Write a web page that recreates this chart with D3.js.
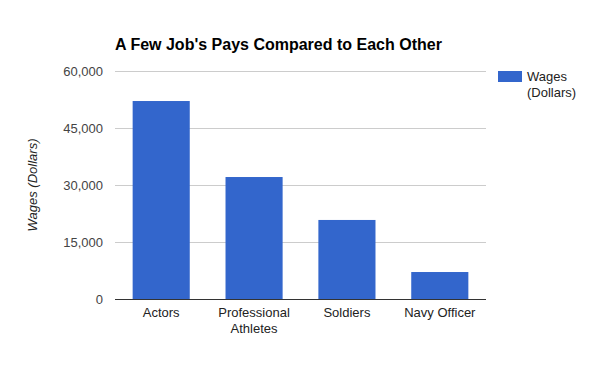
<!DOCTYPE html>
<html>
<head>
<meta charset="utf-8">
<script src="https://cdn.jsdelivr.net/npm/d3@7"></script>
<style>
  body { margin: 0; background: #fff; }
  text { font-family: "Liberation Sans", Arial, sans-serif; }
</style>
</head>
<body>
<svg id="chart"></svg>
<script>
const jobs = [['Actors'], ['Professional', 'Athletes'], ['Soldiers'], ['Navy Officer']];
const wages = [52100, 32100, 20800, 7100];
const yTicks = [0, 15000, 30000, 45000, 60000];
const seriesName = ['Wages', '(Dollars)'];

const width = 600, height = 371;
const margins = { top: 71, bottom: 72, left: 115, right: 114 };

const svg = d3.select('#chart')
  .attr('width', width)
  .attr('height', height);

const x = d3.scaleBand()
  .domain(jobs.map(d => d.join(' ')))
  .range([margins.left, width - margins.right])
  .paddingInner(0.385)
  .paddingOuter(0.19);

const y = d3.scaleLinear()
  .domain([0, 60000])
  .range([height - margins.bottom, margins.top]);

// gridlines
svg.append('g')
  .selectAll('line')
  .data(yTicks.slice(1))
  .enter()
  .append('line')
  .attr('x1', margins.left)
  .attr('x2', width - margins.right)
  .attr('y1', d => y(d))
  .attr('y2', d => y(d))
  .attr('stroke', '#cccccc')
  .attr('stroke-width', 1)
  .attr('shape-rendering', 'crispEdges');

// y tick labels
svg.append('g')
  .selectAll('text')
  .data(yTicks)
  .enter()
  .append('text')
  .attr('x', margins.left - 12)
  .attr('y', d => y(d) + 5)
  .attr('text-anchor', 'end')
  .attr('font-size', '13px')
  .attr('fill', '#444')
  .text(d => d3.format(',')(d));

// bars
svg.append('g')
  .selectAll('rect')
  .data(wages)
  .enter()
  .append('rect')
  .attr('x', (d, i) => x(jobs[i].join(' ')))
  .attr('width', x.bandwidth())
  .attr('y', d => y(d))
  .attr('height', d => y(0) - y(d))
  .attr('fill', '#3366cc');

// baseline
svg.append('line')
  .attr('x1', margins.left)
  .attr('x2', width - margins.right)
  .attr('y1', y(0))
  .attr('y2', y(0))
  .attr('stroke', '#333')
  .attr('stroke-width', 1)
  .attr('shape-rendering', 'crispEdges');

// x labels
const xl = svg.append('g')
  .selectAll('text')
  .data(jobs)
  .enter()
  .append('text')
  .attr('text-anchor', 'middle')
  .attr('font-size', '13px')
  .attr('fill', '#222');

xl.selectAll('tspan')
  .data(d => d.map(t => ({ t, key: d.join(' ') })))
  .enter()
  .append('tspan')
  .attr('x', d => x(d.key) + x.bandwidth() / 2)
  .attr('y', (d, i) => y(0) + 18 + i * 16)
  .text(d => d.t);

// title
svg.append('text')
  .attr('x', margins.left)
  .attr('y', 50)
  .attr('font-size', '16px')
  .attr('font-weight', 'bold')
  .attr('fill', '#000')
  .text("A Few Job's Pays Compared to Each Other");

// y axis title
svg.append('text')
  .attr('transform', `translate(37,${(y(0) + y(60000)) / 2}) rotate(-90)`)
  .attr('text-anchor', 'middle')
  .attr('font-size', '13px')
  .attr('font-style', 'italic')
  .attr('fill', '#222')
  .text('Wages (Dollars)');

// legend
svg.append('rect')
  .attr('x', 498)
  .attr('y', 71)
  .attr('width', 24)
  .attr('height', 11)
  .attr('fill', '#3366cc');

svg.append('text')
  .attr('font-size', '13px')
  .attr('fill', '#222')
  .selectAll('tspan')
  .data(seriesName)
  .enter()
  .append('tspan')
  .attr('x', 527)
  .attr('y', (d, i) => 81 + i * 16)
  .text(d => d);
</script>
</body>
</html>
